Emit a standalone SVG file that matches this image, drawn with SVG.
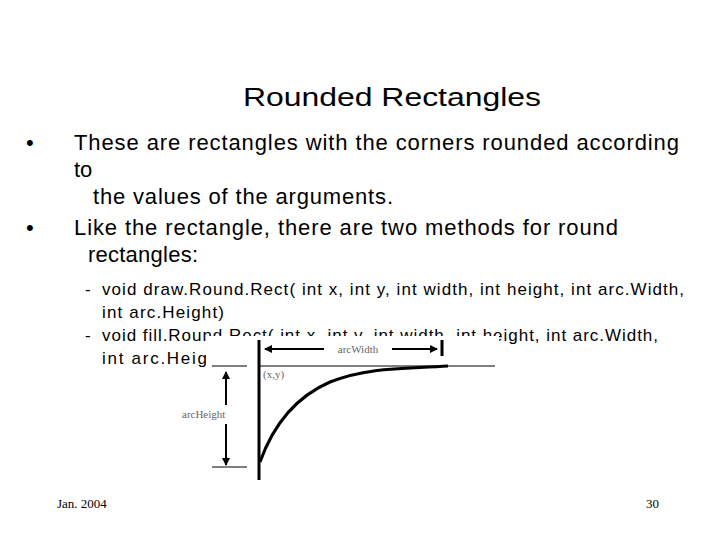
<svg xmlns="http://www.w3.org/2000/svg" width="720" height="540" viewBox="0 0 720 540">
<style>
.t{font-family:"Liberation Sans",Arial,sans-serif;fill:#000}
.s{font-family:"Liberation Serif","Times New Roman",serif;fill:#000}
.g{font-family:"Liberation Serif",serif;fill:#666;font-size:11px}
</style>
<defs><marker id="a" markerWidth="8" markerHeight="8" refX="7" refY="4" orient="auto" markerUnits="userSpaceOnUse"><path d="M0,0L8,4L0,8z" fill="#000"/></marker></defs>
<rect width="720" height="540" fill="#fff"/>
<g id="title"><text class="t" x="243" y="106" font-size="26" textLength="298" lengthAdjust="spacingAndGlyphs">Rounded Rectangles</text></g>
<g id="body" font-size="22">
<text class="t" x="26" y="150">•</text>
<text class="t" x="74" y="150" textLength="605">These are rectangles with the corners rounded according</text>
<text class="t" x="74" y="177">to</text>
<text class="t" x="93" y="204" textLength="300">the values of the arguments.</text>
<text class="t" x="26" y="235">•</text>
<text class="t" x="74" y="235" textLength="544">Like the rectangle, there are two methods for round</text>
<text class="t" x="88" y="262" textLength="110">rectangles:</text>
<text class="t" x="85" y="295" font-size="17">-</text>
<text class="t" x="102" y="295" font-size="17" textLength="582">void draw.Round.Rect( int x, int y, int width, int height, int arc.Width,</text>
<text class="t" x="102" y="318" font-size="17" textLength="122">int arc.Height)</text>
<text class="t" x="85" y="341" font-size="17">-</text>
<text class="t" x="102" y="341" font-size="17" textLength="556">void fill.Round.Rect( int x, int y, int width, int height, int arc.Width,</text>
<text class="t" x="102" y="364" font-size="17" textLength="130">int arc.Height)</text>
</g>
<rect x="206" y="336" width="293" height="145" fill="#fff"/>
<g id="figure" stroke="#000" fill="none">
<line x1="259" y1="340" x2="259" y2="480" stroke-width="3"/>
<line x1="259" y1="366" x2="495" y2="366" stroke-width="1"/>
<line x1="442" y1="340" x2="442" y2="356" stroke-width="3"/>
<line x1="212" y1="366" x2="247" y2="366"/>
<line x1="212" y1="467" x2="247" y2="467"/>
<line x1="226" y1="405" x2="226" y2="372" stroke-width="2" marker-end="url(#a)"/>
<line x1="226" y1="424" x2="226" y2="465" stroke-width="2" marker-end="url(#a)"/>
<line x1="324" y1="349" x2="265" y2="349" stroke-width="2" marker-end="url(#a)"/>
<line x1="392" y1="349" x2="437" y2="349" stroke-width="2" marker-end="url(#a)"/>
<path d="M260,462 C275,420 300,395 330,382 C370,366 410,369 448,366" stroke-width="3"/>
</g>
<g id="labels">
<text class="g" x="358" y="353" text-anchor="middle">arcWidth</text>
<text class="g" x="263" y="378">(x,y)</text>
<text class="g" x="182" y="418">arcHeight</text>
</g>
<g id="footer" font-size="13">
<text class="s" x="57" y="508">Jan. 2004</text>
<text class="s" x="659" y="508" text-anchor="end">30</text>
</g>
</svg>
